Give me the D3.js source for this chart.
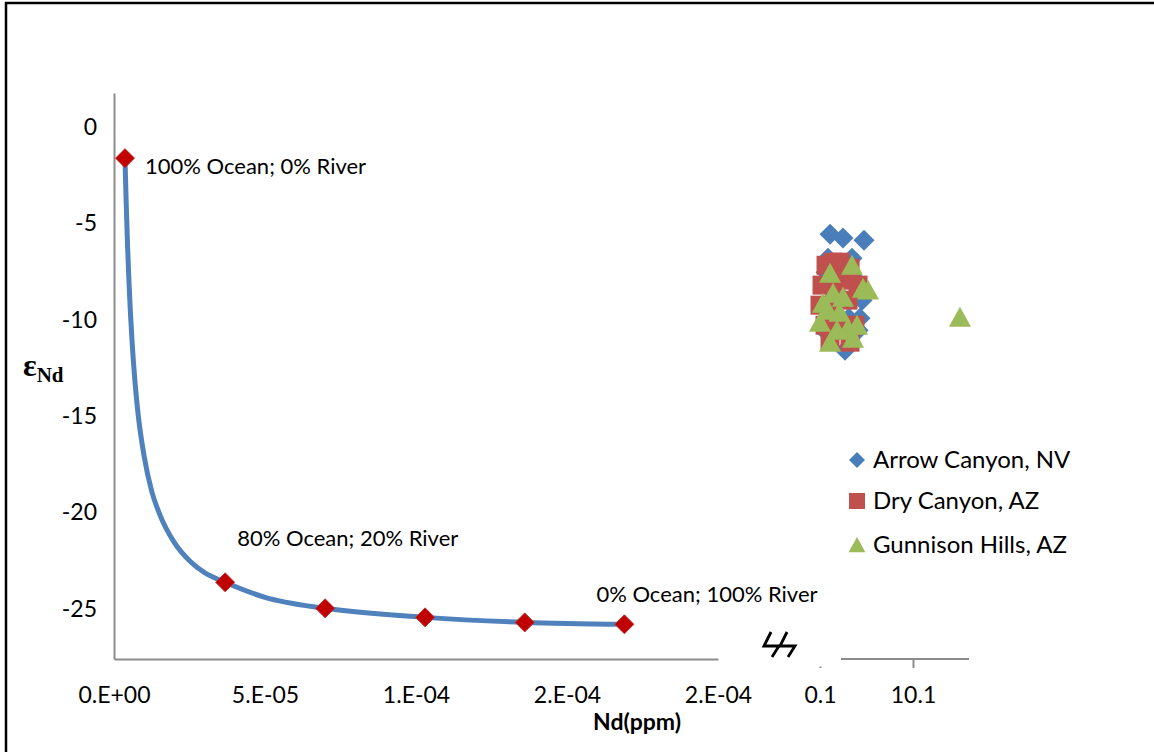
<!DOCTYPE html>
<html>
<head>
<meta charset="utf-8">
<script src="https://cdn.jsdelivr.net/npm/d3@7"></script>
<style>
  body { margin: 0; background: #fff; }
  svg { display: block; }
  text { font-family: Lato, "Open Sans", sans-serif; fill: #000; }
</style>
</head>
<body>
<div id="container"></div>
<script>
// mixing curve, Nd (ppm) vs eps Nd
const mixX = [3.64e-6, 4.0e-6, 4.5e-6, 5.0e-6, 6.0e-6, 7.0e-6, 8.0e-6, 1.0e-5, 1.25e-5, 1.5e-5, 2.0e-5, 2.5e-5, 3.0e-5, 3.68e-5, 5.0e-5, 6.99e-5, 1.03e-4, 1.36e-4, 1.69e-4]
const mixY = [-1.61, -3.73, -6.2, -8.19, -11.17, -13.31, -14.92, -17.1, -18.9, -20.04, -21.56, -22.5, -23.12, -23.62, -24.4, -24.97, -25.44, -25.7, -25.8]

// red diamonds on the curve (100, 80, 60, 40, 20, 0 % ocean)
const endX = [3.64e-6, 3.68e-5, 6.99e-5, 1.03e-4, 1.36e-4, 1.69e-4]
const endY = [-1.61, -23.62, -24.97, -25.44, -25.7, -25.8]
const endLabels = ["100% Ocean; 0% River", "80% Ocean; 20% River", "", "", "", "0% Ocean; 100% River"]

// samples (right part of the broken axis)
const arrowX = [1.18, 2.57, 4.83, 0.96, 3.54, 3.11, 0.75, 3.97, 1.9, 1.2, 3.2, 4.62, 4.4, 4.19, 2.79, 1.0]
const arrowY = [-5.56, -5.76, -5.87, -6.8, -6.8, -7.42, -7.53, -7.94, -8.57, -9.5, -9.92, -8.98, -9.92, -10.54, -11.58, -10.75]
const dryX = [0.75, 2.25, 3.33, 0.32, 1.71, 2.79, 4.19, 0.1, 1.39, 3.11, 0.64, 2.25, 3.86, 1.18, 3.33, 1.5]
const dryY = [-7.17, -7.01, -7.32, -8.2, -8.46, -7.94, -8.2, -9.24, -9.5, -8.98, -10.28, -10.54, -10.28, -11.06, -11.16, -7.01]
const gunX = [1.18, 3.54, 4.72, 5.26, 0.42, 2.57, 1.5, 0.96, 4.08, 3.11, 1.93, 1.18, 3.65, 0.1, 2.2, 15.15]
const gunY = [-7.58, -7.17, -8.36, -8.46, -9.14, -8.83, -8.62, -9.5, -10.28, -10.44, -10.54, -11.16, -10.96, -10.13, -9.61, -9.87]

const seriesNames = ["Arrow Canyon, NV", "Dry Canyon, AZ", "Gunnison Hills, AZ"]

const xTicks = [0, 5e-5, 1e-4, 1.5e-4, 2e-4]
const yTicks = [0, -5, -10, -15, -20, -25]
const rightTicks = [0.1, 10.1]

const W = 1154, H = 752

const svg = d3.select("div#container")
    .append("svg")
    .attr("width", W)
    .attr("height", H)

// outer frame
svg.append("rect")
    .attr("x", 6).attr("y", 3)
    .attr("width", 1300).attr("height", 900)
    .attr("fill", "#fff")
    .attr("stroke", "#000")
    .attr("stroke-width", 2.5)

const x = d3.scaleLinear().domain([0, 2e-4]).range([114, 718])
const y = d3.scaleLinear().domain([-27.6, 1.77]).range([659, 93])
const xr = d3.scaleLinear().domain([0.1, 10.1]).range([820, 913])

const axisColor = "#8c8c8c"

// excel style "0.E+00"
const sci = v => {
    if (v === 0) return "0.E+00"
    let e = Math.floor(Math.log10(Math.abs(v)) + 1e-9)
    let m = Math.round(+(v / Math.pow(10, e)).toFixed(6))
    if (m >= 10) { m = m / 10; e += 1 }
    const s = e < 0 ? "-" : "+"
    return m + ".E" + s + String(Math.abs(e)).padStart(2, "0")
}

const gx = svg.append("g")
    .attr("transform", `translate(0,${y.range()[0]})`)
    .call(d3.axisBottom(x).tickValues(xTicks).tickFormat(sci).tickSize(0).tickSizeOuter(0).tickPadding(28))

const gy = svg.append("g")
    .attr("transform", `translate(${x.range()[0]},0)`)
    .call(d3.axisLeft(y).tickValues(yTicks).tickFormat(d => String(d)).tickSize(0).tickSizeOuter(0).tickPadding(17))

const gr = svg.append("g")
    .attr("transform", `translate(0,${y.range()[0]})`)
    .call(d3.axisBottom(xr).tickValues(rightTicks).tickFormat(d3.format(".1f")).tickSize(9).tickSizeOuter(0).tickPadding(19))

gr.select(".domain").remove()
// axis segment visible after the break
gr.append("line")
    .attr("x1", 841).attr("x2", 969)
    .attr("y1", 0).attr("y2", 0)
    .attr("stroke", axisColor).attr("stroke-width", 2)
// the 0.1 tick is mostly hidden by the break
gr.selectAll(".tick").filter(d => d === rightTicks[0]).select("line").attr("y1", 7.5)

for (const g of [gx, gy, gr]) {
    g.selectAll(".domain, line").attr("stroke", axisColor).attr("stroke-width", 2)
    g.selectAll("text").style("font-size", "23px").attr("fill", "#000")
        .style("font-family", "Lato, sans-serif")
}

// break symbol
const brk = svg.append("g").attr("fill", "none").attr("stroke", "#000").attr("stroke-width", 2.8)
;[0, 16].forEach(o => {
    brk.append("path")
        .attr("d", `M${771 + o},632 L${764 + o},646 L${779 + o},646 L${772 + o},657`)
})

// mixing curve
const mix = mixX.map((v, i) => [v, mixY[i]])
svg.append("path")
    .datum(mix)
    .attr("fill", "none")
    .attr("stroke", "#4f81bd")
    .attr("stroke-width", 5)
    .attr("d", d3.line().x(d => x(d[0])).y(d => y(d[1])).curve(d3.curveMonotoneX))

const diamond = r => `M0,${-r}L${r},0L0,${r}L${-r},0Z`
const square = r => `M${-r},${-r}H${r}V${r}H${-r}Z`
const triangle = r => `M0,${-r}L${r * 1.05},${r * 0.9}L${-r * 1.05},${r * 0.9}Z`

const ends = endX.map((v, i) => ({ x: v, y: endY[i], label: endLabels[i] }))
svg.append("g").selectAll("path")
    .data(ends)
    .enter()
    .append("path")
    .attr("transform", d => `translate(${x(d.x)},${y(d.y)})`)
    .attr("d", diamond(9.5))
    .attr("fill", "#c00000")
    .attr("stroke", "#b33")
    .attr("stroke-width", 1)

// label offsets from their marker
const labelOffset = [[20, 8], [12, -44], null, null, null, [-28, -30]]
svg.append("g").selectAll("text")
    .data(ends.filter(d => d.label))
    .enter()
    .append("text")
    .attr("x", d => x(d.x) + labelOffset[endLabels.indexOf(d.label)][0])
    .attr("y", d => y(d.y) + labelOffset[endLabels.indexOf(d.label)][1])
    .attr("dy", "0.35em")
    .style("font-size", "22px")
    .text(d => d.label)

// samples
const series = [
    { xs: arrowX, ys: arrowY, color: "#4a7ebb", shape: diamond, r: 10.5 },
    { xs: dryX, ys: dryY, color: "#c0504d", shape: square, r: 9.5 },
    { xs: gunX, ys: gunY, color: "#9bbb59", shape: triangle, r: 10.5 }
]

series.forEach(s => {
    svg.append("g").selectAll("path")
        .data(s.xs.map((v, i) => [v, s.ys[i]]))
        .enter()
        .append("path")
        .attr("transform", d => `translate(${xr(d[0])},${y(d[1])})`)
        .attr("d", s.shape(s.r))
        .attr("fill", s.color)
})

// legend
const legend = svg.append("g").attr("transform", "translate(857,460)")
const lg = legend.selectAll("g")
    .data(series)
    .enter()
    .append("g")
    .attr("transform", (d, i) => `translate(0,${[0, 41, 85][i]})`)
lg.append("path")
    .attr("d", d => d.shape(8))
    .attr("fill", d => d.color)
lg.append("text")
    .attr("x", 16)
    .attr("dy", "0.35em")
    .style("font-size", "24px")
    .text((d, i) => seriesNames[i])

// axis titles
const yt = svg.append("text")
    .attr("x", 23).attr("y", 376)
    .style("font-family", "'Liberation Serif', 'DejaVu Serif', serif")
    .style("font-weight", "bold")
yt.append("tspan").style("font-size", "32px").text("ε")
yt.append("tspan").style("font-size", "21px").attr("dy", 6).text("Nd")

svg.append("text")
    .attr("x", 637).attr("y", 730)
    .attr("text-anchor", "middle")
    .style("font-size", "23px")
    .style("font-weight", "bold")
    .text("Nd(ppm)")
</script>
</body>
</html>
